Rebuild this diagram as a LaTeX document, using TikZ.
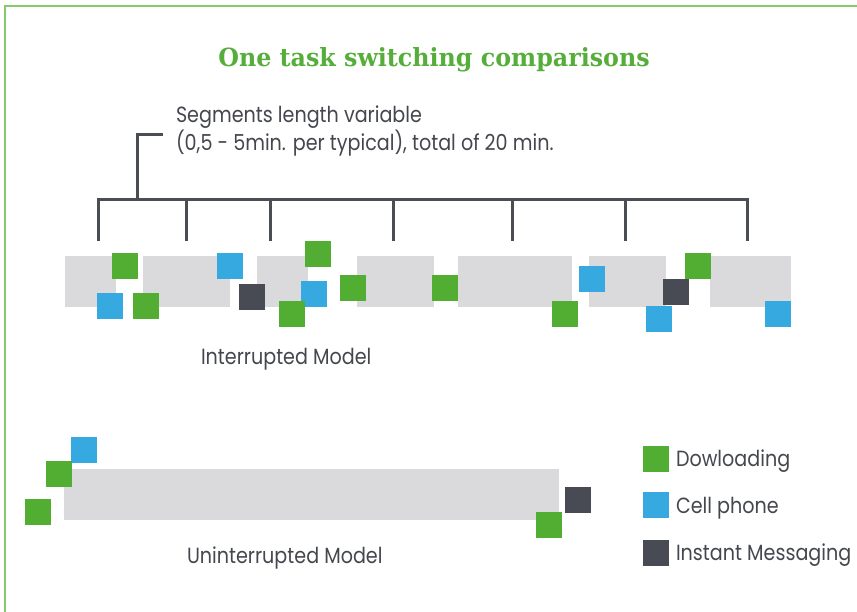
\documentclass[tikz,border=0pt]{standalone}
\usepackage{fontspec}
\setmainfont{Poppins}
\newfontfamily\bodyf[FakeStretch=0.87]{Poppins}
\newfontfamily\titlef[FakeStretch=0.95]{DejaVu Serif}
\definecolor{tgreen}{HTML}{52AE32}
\definecolor{tblue}{HTML}{36A9E1}
\definecolor{tdark}{HTML}{484B53}
\definecolor{tbar}{HTML}{DADADC}
\definecolor{tline}{HTML}{4B4D55}
\definecolor{tframe}{HTML}{86C96A}
\definecolor{ttitle}{HTML}{55AE3A}
\definecolor{ttext}{HTML}{45474E}
\tikzset{
  sq/.style={minimum width=26pt,minimum height=26pt,inner sep=0pt,outer sep=0pt,anchor=north west,draw=none},
  gsq/.style={sq,fill=tgreen},
  bsq/.style={sq,fill=tblue},
  dsq/.style={sq,fill=tdark},
  segbar/.style={fill=tbar,inner sep=0pt,outer sep=0pt,anchor=north west,minimum height=51pt},
  brk/.style={draw=tline,line width=3pt},
  lbl/.style={font=\bodyf\fontsize{22}{28}\selectfont,text=ttext,anchor=base west,inner sep=0pt,outer sep=0pt},
  frm/.style={draw=tframe,line width=2pt}
}
\begin{document}
\begin{tikzpicture}[x=1pt,y=-1pt]
\useasboundingbox (0,0) rectangle (857,612);
% frame
\coordinate (f1) at (4,6);
\coordinate (f2) at (857,6);
\coordinate (f3) at (5,5);
\coordinate (f4) at (5,612);
\draw[frm] (f1) -- (f2);
\draw[frm] (f3) -- (f4);
% title
\node[font=\titlef\bfseries\fontsize{25}{28}\selectfont,text=ttitle,anchor=base,inner sep=0pt] (title) at (434,67) {One task switching comparisons};
% note text
\node[lbl] (note1) at (176,123) {Segments length variable};
\node[lbl] (note2) at (176,151) {(0,5 - 5min. per typical), total of 20 min.};
% bracket
\coordinate (n0) at (162.5,135);
\coordinate (n1) at (137.5,135);
\coordinate (n2) at (137.5,200);
\coordinate (bl) at (97,200);
\coordinate (br) at (749,200);
\draw[brk] (n0) -- (n1) -- (n2);
\draw[brk] (bl) -- (br);
\foreach \x [count=\i] in {98.5,186,270,393,512,625,747.5}{
  \coordinate (t\i a) at (\x,200);
  \coordinate (t\i b) at (\x,241.5);
  \draw[brk] (t\i a) -- (t\i b);
}
% interrupted bars
\node[segbar,minimum width=51pt] (b1) at (65,256) {};
\node[segbar,minimum width=87pt] (b2) at (143,256) {};
\node[segbar,minimum width=51pt] (b3) at (257,256) {};
\node[segbar,minimum width=77pt] (b4) at (357,256) {};
\node[segbar,minimum width=114pt] (b5) at (458,256) {};
\node[segbar,minimum width=77pt] (b6) at (589,256) {};
\node[segbar,minimum width=81pt] (b7) at (710,256) {};
% interrupted squares
\node[gsq] (s1) at (112,253) {};
\node[bsq] (s2) at (97,293) {};
\node[gsq] (s3) at (133,293) {};
\node[bsq] (s4) at (217,253) {};
\node[dsq] (s5) at (239,284) {};
\node[gsq] (s6) at (305,241) {};
\node[bsq] (s7) at (301,281) {};
\node[gsq] (s8) at (279,301) {};
\node[gsq] (s9) at (340,275) {};
\node[gsq] (s10) at (432,275) {};
\node[gsq] (s11) at (552,301) {};
\node[bsq] (s12) at (579,266) {};
\node[dsq] (s13) at (663,279) {};
\node[gsq] (s14) at (685,253) {};
\node[bsq] (s15) at (646,306) {};
\node[bsq] (s16) at (765,301) {};
\node[lbl] (imodel) at (201,365) {Interrupted Model};
% uninterrupted
\node[segbar,minimum width=495pt] (ub) at (64,469) {};
\node[bsq] (u1) at (71,437) {};
\node[gsq] (u2) at (46,461) {};
\node[gsq] (u3) at (25,499) {};
\node[dsq] (u4) at (565,487) {};
\node[gsq] (u5) at (536,512) {};
\node[lbl] (umodel) at (187,563) {Uninterrupted Model};
% legend
\node[gsq] (lg) at (643,446) {};
\node[bsq] (lb) at (643,492) {};
\node[dsq] (ld) at (643,540) {};
\node[lbl] (lgt) at (676,466) {Dowloading};
\node[lbl] (lbt) at (676,513) {Cell phone};
\node[lbl] (ldt) at (676,560) {Instant Messaging};
\end{tikzpicture}
\end{document}
